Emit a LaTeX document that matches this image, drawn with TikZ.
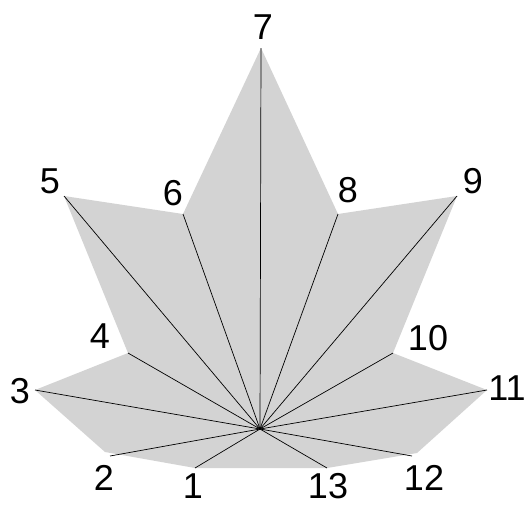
\documentclass[tikz,border=0pt]{standalone}
\usepackage{fontspec}
\setmainfont{Liberation Sans}
\definecolor{leaf}{RGB}{211,211,211}
\begin{document}
\begin{tikzpicture}[x=1pt,y=-1pt,
  rib/.style={draw=black,line width=0.7pt},
  lab/.style={inner sep=0pt,font=\fontsize{36}{36}\selectfont}]
\useasboundingbox (0,0) rectangle (526,506);
\coordinate (c) at (260,429);
\coordinate (p1) at (195,468);
\coordinate (p2) at (110,456);
\coordinate (p3) at (35,390);
\coordinate (p4) at (128,353);
\coordinate (p5) at (64,196);
\coordinate (p6) at (183,214);
\coordinate (p7) at (261,48);
\coordinate (p8) at (338,214);
\coordinate (p9) at (457,196);
\coordinate (p10) at (393,353);
\coordinate (p11) at (487,390);
\coordinate (p12) at (412,456);
\coordinate (p13) at (327,468);
\fill[leaf] (p1) -- (105,452) -- (p3) -- (p4) -- (p5) -- (p6) -- (p7) -- (p8) -- (p9) -- (p10) -- (p11) -- (417,453) -- (p13) -- cycle;
\foreach \i in {1,...,13} {\draw[rib] (c) -- (p\i);}
\node[lab] (l1) at (193,486) {1};
\node[lab] (l2) at (104,478) {2};
\node[lab] (l3) at (20,391) {3};
\node[lab] (l4) at (100,336) {4};
\node[lab] (l5) at (50,181) {5};
\node[lab] (l6) at (173,193) {6};
\node[lab] (l7) at (263,27) {7};
\node[lab] (l8) at (348,190) {8};
\node[lab] (l9) at (473,181) {9};
\node[lab] (l10) at (428,338) {10};
\node[lab] (l11) at (507,388) {11};
\node[lab] (l12) at (424,478) {12};
\node[lab] (l13) at (328,486) {13};
\end{tikzpicture}
\end{document}
